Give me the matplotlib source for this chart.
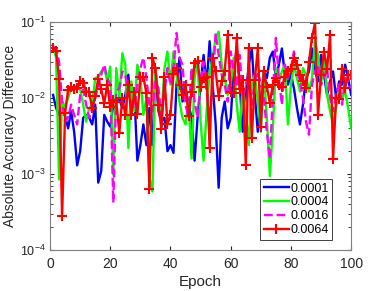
import numpy as np
import matplotlib
matplotlib.use('Agg')
import matplotlib.pyplot as plt

plt.rcParams['font.family'] = ['Liberation Sans', 'DejaVu Sans']
plt.rcParams['mathtext.fontset'] = 'custom'
plt.rcParams['mathtext.rm'] = 'Liberation Sans'

epochs = np.arange(1, 101)

lr_0001 = [0.011, 0.0074, 0.006, 0.0078, 0.0058, 0.004, 0.0067, 0.0036, 0.0013, 0.002,
           0.0055, 0.006, 0.0055, 0.0045, 0.0082, 0.00077, 0.0011, 0.006, 0.0049, 0.0042,
           0.0082, 0.009, 0.010, 0.0074, 0.011, 0.0203, 0.0067, 0.011, 0.0015, 0.0024,
           0.0045, 0.0024, 0.0074, 0.0024, 0.0224, 0.0067, 0.0049, 0.0055, 0.002, 0.0024,
           0.0019, 0.015, 0.034, 0.009, 0.0135, 0.0082, 0.0055, 0.0015, 0.0055, 0.015,
           0.037, 0.015, 0.056, 0.015, 0.0045, 0.00066, 0.0055, 0.009, 0.004, 0.0055,
           0.0224, 0.045, 0.015, 0.0036, 0.011, 0.0275, 0.045, 0.011, 0.0036, 0.009,
           0.0224, 0.0183, 0.034, 0.041, 0.0183, 0.0275, 0.045, 0.0203, 0.015, 0.0203,
           0.0135, 0.0074, 0.0045, 0.0082, 0.0183, 0.0224, 0.045, 0.0224, 0.0166, 0.037,
           0.0203, 0.011, 0.0166, 0.0224, 0.010, 0.0166, 0.015, 0.0275, 0.0183, 0.011]

lr_0004 = [0.05, 0.034, 0.00085, 0.009, 0.0078, 0.010, 0.0135, 0.013, 0.015, 0.013,
           0.0082, 0.0049, 0.0074, 0.0082, 0.0183, 0.019, 0.0224, 0.0248, 0.0166, 0.026,
           0.00098, 0.0248, 0.010, 0.039, 0.0275, 0.0022, 0.0166, 0.0067, 0.0275, 0.0183,
           0.006, 0.010, 0.00089, 0.00059, 0.0248, 0.011, 0.0055, 0.0248, 0.041, 0.015,
           0.041, 0.0203, 0.009, 0.0055, 0.0045, 0.009, 0.0016, 0.0183, 0.030, 0.0049,
           0.0015, 0.0067, 0.0224, 0.034, 0.062, 0.075, 0.0275, 0.0183, 0.011, 0.015,
           0.034, 0.0082, 0.0036, 0.015, 0.0067, 0.0024, 0.015, 0.0203, 0.009, 0.0036,
           0.0224, 0.0055, 0.00094, 0.004, 0.0248, 0.0166, 0.0224, 0.0275, 0.0045, 0.015,
           0.0275, 0.0183, 0.0122, 0.0248, 0.0203, 0.0122, 0.0183, 0.056, 0.037, 0.015,
           0.034, 0.011, 0.0067, 0.0045, 0.0074, 0.015, 0.010, 0.0122, 0.0074, 0.004]

lr_0016 = [0.047, 0.045, 0.03, 0.009, 0.0049, 0.0055, 0.0082, 0.006, 0.0045, 0.011,
           0.013, 0.0082, 0.0055, 0.0074, 0.010, 0.015, 0.0203, 0.0275, 0.0183, 0.015,
           0.00042, 0.0122, 0.0135, 0.0224, 0.0203, 0.0122, 0.0082, 0.0074, 0.015, 0.0248,
           0.034, 0.0183, 0.0082, 0.0067, 0.0166, 0.0135, 0.0055, 0.0122, 0.0248, 0.015,
           0.0248, 0.072, 0.034, 0.0275, 0.0082, 0.0055, 0.0248, 0.009, 0.0055, 0.015,
           0.03, 0.0122, 0.0055, 0.015, 0.072, 0.037, 0.0203, 0.015, 0.009, 0.041,
           0.0224, 0.015, 0.037, 0.010, 0.015, 0.0203, 0.0082, 0.0166, 0.0224, 0.015,
           0.011, 0.0036, 0.0016, 0.011, 0.062, 0.0183, 0.0082, 0.0275, 0.0183, 0.0248,
           0.041, 0.0248, 0.0166, 0.010, 0.0049, 0.0033, 0.015, 0.0224, 0.0275, 0.015,
           0.0183, 0.0248, 0.010, 0.0067, 0.011, 0.015, 0.0082, 0.0183, 0.0166, 0.0135]

lr_0064 = [0.045, 0.042, 0.018, 0.00028, 0.0064, 0.0128, 0.0142, 0.013, 0.0135, 0.017,
           0.016, 0.0122, 0.012, 0.0073, 0.0105, 0.018, 0.013, 0.0086, 0.015, 0.0076,
           0.0093, 0.009, 0.0035, 0.010, 0.006, 0.015, 0.006, 0.012, 0.0062, 0.0187,
           0.019, 0.0116, 0.00064, 0.034, 0.0248, 0.008, 0.0039, 0.019, 0.0045, 0.006,
           0.021, 0.025, 0.015, 0.011, 0.015, 0.0058, 0.0122, 0.029, 0.031, 0.0142,
           0.0183, 0.019, 0.0022, 0.034, 0.0224, 0.0105, 0.0166, 0.0224, 0.068, 0.012,
           0.0116, 0.062, 0.013, 0.0174, 0.0013, 0.045, 0.003, 0.0174, 0.045, 0.0042,
           0.0224, 0.0142, 0.0086, 0.015, 0.0183, 0.015, 0.0142, 0.019, 0.0224, 0.024,
           0.034, 0.027, 0.02, 0.0166, 0.0135, 0.03, 0.062, 0.098, 0.006, 0.02,
           0.041, 0.024, 0.068, 0.0016, 0.010, 0.0098, 0.024, 0.0135, 0.0203, 0.02]

labels = ['0.0001', '0.0004', '0.0016', '0.0064']

fig = plt.figure(figsize=(3.88, 2.91), dpi=100)
ax = fig.add_axes([0.129, 0.141, 0.776, 0.783])

ax.plot(epochs, lr_0001, color='#0000ff', lw=1.7, label=labels[0])
ax.plot(epochs, lr_0004, color='#00ff00', lw=1.7, label=labels[1])
ax.plot(epochs, lr_0016, color='#ff00ff', lw=1.7, ls='--', label=labels[2])
ax.plot(epochs, lr_0064, color='#ff0000', lw=1.7, marker='+', ms=7, mew=1.5, label=labels[3])

ax.set_yscale('log')
ax.set_xlim(0, 100)
ax.set_ylim(1e-4, 1e-1)
ax.set_xticks([0, 20, 40, 60, 80, 100])
ax.tick_params(which='both', direction='in', top=True, right=True, colors='#262626')
ax.tick_params(axis='x', pad=5, labelsize=10)
ax.tick_params(axis='y', pad=3, labelsize=9)
ax.tick_params(which='major', length=3)
ax.tick_params(which='minor', length=2)
for s in ax.spines.values():
    s.set_color('#808080')
    s.set_linewidth(0.8)

ax.set_xlabel('Epoch', fontsize=11, color='#262626', labelpad=3)
ax.set_ylabel('Absolute Accuracy Difference', fontsize=10, color='#262626')
ax.yaxis.set_label_coords(-0.11, 0.5)

leg = ax.legend(loc='lower right', bbox_to_anchor=(0.937, 0.044), fontsize=9,
                handlelength=2.0, handletextpad=0.1, borderpad=0.3, labelspacing=0.15,
                fancybox=False, framealpha=1, borderaxespad=0)
leg.get_frame().set_edgecolor('#404040')
leg.get_frame().set_linewidth(0.7)

plt.savefig('out.png', dpi=100)
